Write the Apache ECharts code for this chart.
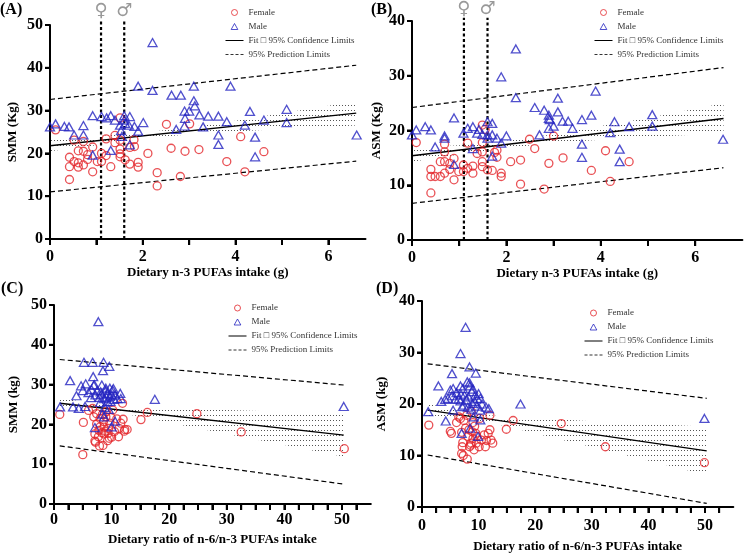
<!DOCTYPE html>
<html><head><meta charset="utf-8">
<script src="https://cdn.jsdelivr.net/npm/echarts@6/dist/echarts.min.js"></script>
<style>html,body{margin:0;padding:0;background:#fff}#c{width:746px;height:557px}</style>
</head><body><div id="c"></div>
<script>
// ---------- DATA ----------
const femaleA = [[0.12,25.5],[0.42,19.1],[0.42,16.9],[0.42,13.9],[0.52,23.1],[0.52,18.1],[0.61,20.6],[0.61,17.8],[0.61,16.8],[0.72,22.8],[0.72,20.5],[0.72,17.3],[0.81,19.7],[0.81,18.6],[0.92,21.5],[0.92,15.7],[1.02,18.1],[1.11,20.0],[1.11,18.1],[1.21,23.4],[1.21,19.5],[1.31,16.9],[1.40,24.2],[1.40,22.5],[1.51,28.3],[1.51,23.1],[1.51,21.0],[1.51,19.9],[1.51,19.2],[1.62,18.5],[1.72,21.4],[1.72,17.5],[1.82,21.6],[1.81,23.2],[1.90,17.9],[1.90,16.8],[2.11,20.0],[2.31,15.5],[2.31,12.4],[2.51,26.8],[2.61,21.2],[2.81,14.6],[2.91,20.5],[3.01,26.9],[3.21,20.9],[3.81,18.1],[4.11,23.9],[4.20,15.7],[4.61,20.4]];
const maleA = [[0.0,26.2],[0.12,26.9],[0.31,26.3],[0.41,26.2],[0.52,24.3],[0.72,26.5],[0.72,24.3],[0.92,28.8],[0.92,19.6],[1.11,28.6],[1.22,28.3],[1.31,28.8],[1.31,20.7],[1.40,27.8],[1.51,26.6],[1.53,25.3],[1.60,28.8],[1.60,27.8],[1.72,28.6],[1.70,26.6],[1.82,26.3],[1.72,22.0],[1.90,25.2],[2.01,27.2],[1.90,35.7],[2.21,45.9],[2.21,34.7],[2.62,33.6],[2.82,33.6],[3.10,35.7],[3.89,35.7],[3.10,32.3],[3.12,31.1],[2.90,29.9],[3.0,29.9],[2.91,28.2],[2.90,26.4],[2.72,25.6],[3.22,29.0],[3.30,26.2],[3.41,28.7],[3.63,28.7],[3.81,27.4],[3.63,24.3],[3.63,22.1],[4.31,29.8],[4.20,26.6],[4.42,23.8],[4.42,19.2],[4.61,27.8],[5.10,30.3],[5.10,27.2],[6.61,24.3],[1.55,24.0],[1.62,27.0]];
const femaleB = [[0.09,17.8],[0.40,12.9],[0.40,11.6],[0.40,8.6],[0.49,11.6],[0.60,14.3],[0.60,11.6],[0.69,17.5],[0.69,16.1],[0.69,14.3],[0.69,12.2],[0.80,14.0],[0.80,12.9],[0.89,14.9],[0.89,11.0],[0.99,12.5],[1.09,13.7],[1.09,12.5],[1.18,17.7],[1.18,13.1],[1.29,13.5],[1.29,12.2],[1.38,15.8],[1.49,21.0],[1.49,17.8],[1.49,16.1],[1.49,14.3],[1.49,13.4],[1.60,12.8],[1.70,12.7],[1.80,16.4],[1.80,15.1],[1.89,12.2],[1.89,11.6],[2.09,14.3],[2.30,14.6],[2.30,10.2],[2.49,18.4],[2.60,16.7],[2.80,9.3],[2.90,14.0],[3.0,19.0],[3.20,15.0],[3.80,12.7],[4.10,16.3],[4.20,10.7],[4.60,14.3],[1.55,20.2],[1.75,16.0]];
const maleB = [[0.0,19.2],[0.09,20.1],[0.28,20.7],[0.40,20.1],[0.49,17.0],[0.69,19.0],[0.69,18.6],[0.89,22.3],[0.89,13.8],[1.09,19.5],[1.18,20.4],[1.29,20.7],[1.29,16.7],[1.38,19.5],[1.42,20.2],[1.49,19.3],[1.60,21.6],[1.60,19.2],[1.60,18.6],[1.70,21.3],[1.70,19.2],[1.70,15.3],[1.80,18.6],[1.89,17.7],[1.89,29.8],[2.00,19.0],[2.20,34.9],[2.20,26.0],[2.60,24.2],[2.70,19.2],[2.80,23.7],[2.90,22.8],[2.90,22.2],[2.92,22.0],[2.90,20.4],[3.0,20.8],[3.09,25.9],[3.09,23.4],[3.19,21.7],[3.31,21.7],[3.40,20.4],[3.60,22.0],[3.60,17.5],[3.60,15.1],[3.80,22.8],[3.89,27.2],[4.20,19.6],[4.29,21.6],[4.40,16.6],[4.40,14.3],[4.60,20.7],[5.09,22.9],[5.09,20.8],[6.59,18.4]];
const femaleC = [[1.0,22.5],[5.1,20.5],[5.0,12.4],[6.0,23.5],[6.9,21.9],[7.1,17.6],[7.1,15.8],[7.4,20.1],[7.7,16.9],[7.9,14.6],[8.0,19.4],[8.0,21.5],[8.3,17.9],[8.6,20.7],[8.7,19.3],[8.7,17.6],[9.0,21.9],[9.1,23.2],[9.3,15.9],[9.4,17.8],[9.7,20.3],[10.0,16.8],[10.2,23.6],[11.2,16.9],[11.3,19.0],[11.6,20.3],[11.9,25.3],[12.0,21.3],[12.3,18.7],[12.7,18.7],[15.1,21.2],[16.2,23.0],[24.8,22.7],[32.5,18.1],[50.4,13.9],[7.2,15.5],[7.8,18.5],[8.5,14.7],[9.5,19.0],[10.5,18.2],[6.7,24.0],[8.4,22.5],[9.6,16.5],[7.4,22.7],[10.9,21.4],[8.9,18.3],[9.9,21.8],[12.2,18.3]];
const maleC = [[1.05,24.4],[2.8,31.0],[3.3,24.4],[3.9,27.2],[4.3,24.0],[4.7,29.7],[5.0,28.5],[5.2,35.6],[5.5,30.2],[5.4,24.5],[6.0,28.0],[6.7,35.6],[6.8,32.0],[6.4,26.7],[6.9,29.8],[7.2,27.4],[7.1,19.2],[7.7,45.8],[7.5,28.5],[7.9,26.8],[8.1,28.2],[8.3,29.9],[8.5,33.5],[8.6,35.6],[8.4,22.6],[8.7,21.9],[8.7,26.5],[9.0,29.1],[9.0,28.6],[9.3,27.8],[9.3,25.7],[9.6,34.6],[9.7,29.1],[9.7,27.1],[10.0,19.4],[10.0,27.4],[10.2,28.6],[10.4,26.3],[10.6,27.4],[10.6,20.8],[11.0,26.5],[11.5,27.8],[11.6,26.5],[17.5,26.3],[50.3,24.5],[6.5,28.8],[7.0,30.0],[8.0,25.5],[8.8,24.3],[9.5,23.8],[9.1,26.8],[8.2,27.6],[9.8,25.8],[10.3,29.0]];
const femaleD = [[1.2,15.9],[5.0,14.7],[5.2,14.3],[6.1,16.4],[6.8,17.2],[7.0,14.5],[7.0,10.4],[7.1,11.7],[7.2,12.5],[7.7,15.3],[8.0,9.3],[8.1,13.7],[8.4,11.7],[8.7,12.4],[8.9,14.6],[9.0,13.3],[9.2,11.1],[9.3,15.7],[9.6,12.4],[9.7,13.7],[10.1,11.7],[10.2,17.2],[11.2,11.7],[11.4,12.9],[11.7,14.3],[12.0,15.0],[12.0,17.8],[12.2,13.0],[12.5,12.4],[14.9,15.1],[16.1,16.8],[24.6,16.2],[32.4,11.7],[49.9,8.6],[7.4,16.8],[8.3,15.0],[9.5,14.3],[6.5,17.5],[7.3,10.0],[8.6,12.0],[10.5,13.0],[9.0,16.4],[7.9,17.8],[8.7,18.6],[11.0,14.0]];
const maleD = [[1.1,18.5],[2.9,23.5],[3.4,20.5],[4.2,16.7],[4.1,20.9],[4.6,21.1],[5.0,22.7],[5.3,25.9],[5.5,23.0],[5.5,18.8],[5.9,20.9],[6.8,29.8],[6.8,23.5],[6.9,21.9],[6.8,20.6],[7.0,14.3],[7.1,19.5],[7.7,34.9],[7.5,21.7],[7.8,20.8],[8.1,19.4],[8.4,27.2],[8.4,24.1],[8.5,23.5],[8.2,21.4],[8.8,22.4],[8.7,19.0],[9.1,17.5],[8.5,15.3],[9.3,20.5],[9.5,26.0],[9.4,21.7],[9.7,19.6],[9.9,13.7],[10.3,21.1],[10.6,20.0],[10.3,18.8],[10.3,16.9],[11.3,19.4],[11.8,19.1],[17.4,20.0],[49.9,17.2],[5.3,21.6],[6.1,22.2],[7.2,23.0],[9.0,22.9],[9.8,21.0],[8.0,24.3],[8.9,20.1],[10.0,22.0],[7.4,19.8],[6.5,21.0]];

// fit lines and limits
const fitAX = [0, 6.6],   fitAY = [21.8, 29.4], predAUp = [32.6, 40.6], predALo = [11.0, 18.2];
const fitBX = [0, 6.6],   fitBY = [15.4, 22.2], predBUp = [24.2, 31.5], predBLo = [6.7, 13.2];
const fitCX = [1, 50.3],  fitCY = [25.3, 17.3], predCUp = [36.3, 29.9], predCLo = [14.6, 5.0];
const fitDX = [1, 50.3],  fitDY = [18.8, 10.9], predDUp = [27.8, 21.1], predDLo = [10.1, 0.7];

// 95% confidence bands
const ciAX = [0, 1, 1.9, 3, 4, 5, 6.6];
const ciALo = [20.5, 21.9, 23.3, 24.5, 25.1, 25.7, 26.5];
const ciAHi = [23.1, 24.0, 24.7, 26.1, 27.6, 29.4, 32.2];
const ciBX = [0, 1, 1.9, 3, 4, 5, 6.6];
const ciBLo = [14.3, 15.6, 16.7, 17.7, 18.3, 18.8, 19.5];
const ciBHi = [16.8, 17.3, 18.0, 19.3, 20.8, 22.3, 25.0];
const ciCX = [1, 5, 9.5, 15, 20, 30, 40, 50.3];
const ciCLo = [23.8, 23.75, 23.15, 22.0, 20.4, 17.6, 14.8, 11.9];
const ciCHi = [26.8, 25.55, 24.65, 24.0, 24.0, 23.6, 23.2, 22.7];
const ciDX = [1, 5, 9.5, 15, 20, 30, 40, 50.3];
const ciDLo = [17.5, 17.36, 16.79, 15.66, 14.26, 11.66, 8.96, 6.2];
const ciDHi = [20.1, 18.96, 18.09, 17.46, 17.26, 16.66, 16.16, 15.6];

// sex-specific reference lines (panels A, B)
const sexLineX = [1.1, 1.6];
const sexSymbols = ['\u2640', '\u2642'];

// axes
const xTicksAB = [0, 1, 2, 3, 4, 5, 6];
const xLabelsAB = [0, 2, 4, 6];
const xTicksCD = [0, 2.5, 5, 7.5, 10, 12.5, 15, 17.5, 20, 22.5, 25, 27.5, 30, 32.5, 35, 37.5, 40, 42.5, 45, 47.5, 50, 52.5];
const xLabelsCD = [0, 10, 20, 30, 40, 50];
const yTicks50 = [0, 10, 20, 30, 40, 50];
const yTicks40 = [0, 10, 20, 30, 40];
const panelLabels = ['(A)', '(B)', '(C)', '(D)'];
const yNames = ['SMM (Kg)', 'ASM (Kg)', 'SMM (kg)', 'ASM (kg)'];
const xNames = ['Dietary n-3 PUFAs intake (g)', 'Dietary n-3 PUFAs intake (g)', 'Dietary ratio of n-6/n-3 PUFAs intake', 'Dietary ratio of n-6/n-3 PUFAs intake'];
const legendNames = ['Female', 'Male', 'Fit \u25A1 95% Confidence Limits', '95% Prediction Limits'];

// ---------- CHART ----------
const SERIF = '"Liberation Serif","Times New Roman",serif';
const RED = '#e3262b', BLUE = '#2424c0';

function pairs(xs, ys) { return xs.map((x, i) => [x, ys[i]]); }
function pattern() {
  const c = document.createElement('canvas'); c.width = 3; c.height = 5;
  const g = c.getContext('2d'); g.fillStyle = '#555'; g.fillRect(0, 0, 1, 1);
  return { image: c, repeat: 'repeat' };
}
const PAT = pattern();

const panels = [
  { grid: {left: 50, top: 25, width: 315.5, height: 214}, xMax: 6.8, yMax: 50, xInt: 2, xTicks: xTicksAB, xLabels: xLabelsAB, yTicks: yTicks50,
    female: femaleA, male: maleA, fitX: fitAX, fitY: fitAY, pUp: predAUp, pLo: predALo, ciX: ciAX, ciLo: ciALo, ciHi: ciAHi,
    xMargin: 10, xGap: 26, yGap: 31, sex: true, sexTop: 51.2, legend: {left: 225, top: 8}, title: {left: 0, top: 2} },
  { grid: {left: 412, top: 21, width: 330.4, height: 219}, xMax: 7, yMax: 40, xInt: 2, xTicks: xTicksAB, xLabels: xLabelsAB, yTicks: yTicks40,
    female: femaleB, male: maleB, fitX: fitBX, fitY: fitBY, pUp: predBUp, pLo: predBLo, ciX: ciBX, ciLo: ciBLo, ciHi: ciBHi,
    xMargin: 10, xGap: 27, yGap: 29, sex: true, sexTop: 40.6, legend: {left: 594, top: 8}, title: {left: 371, top: 2} },
  { grid: {left: 54, top: 305, width: 316.8, height: 199}, xMax: 55, yMax: 50, xInt: 10, xTicks: xTicksCD, xLabels: xLabelsCD, yTicks: yTicks50,
    female: femaleC, male: maleC, fitX: fitCX, fitY: fitCY, pUp: predCUp, pLo: predCLo, ciX: ciCX, ciLo: ciCLo, ciHi: ciCHi,
    xMargin: 8, xGap: 29, yGap: 34, sex: false, legend: {left: 228, top: 303.5}, title: {left: 1, top: 281} },
  { grid: {left: 422, top: 301, width: 311.3, height: 206}, xMax: 55, yMax: 40, xInt: 10, xTicks: xTicksCD, xLabels: xLabelsCD, yTicks: yTicks40,
    female: femaleD, male: maleD, fitX: fitDX, fitY: fitDY, pUp: predDUp, pLo: predDLo, ciX: ciDX, ciLo: ciDLo, ciHi: ciDHi,
    xMargin: 11, xGap: 33, yGap: 34, sex: false, legend: {left: 584, top: 308.5}, title: {left: 376, top: 281} }
];

const option = { animation: false, backgroundColor: '#fff', grid: [], xAxis: [], yAxis: [], series: [], legend: [], title: [] };
const axisFont = { fontFamily: SERIF, fontWeight: 'bold', color: '#000' };
const NOFILL = 'rgba(255,255,255,0)';

panels.forEach((p, i) => {
  option.grid.push(Object.assign({ containLabel: false }, p.grid));
  option.title.push({ text: panelLabels[i], left: p.title.left, top: p.title.top, padding: 0,
    textStyle: { fontFamily: SERIF, fontWeight: 'bold', fontSize: 16, color: '#000' } });
  option.xAxis.push({
    gridIndex: i, type: 'value', min: 0, max: p.xMax, interval: p.xInt,
    name: xNames[i], nameLocation: 'middle', nameGap: p.xGap,
    nameTextStyle: Object.assign({ fontSize: 13 }, axisFont),
    axisLine: { show: true, onZero: false, lineStyle: { color: '#000', width: 2 } },
    axisTick: { show: true, length: 6, customValues: p.xTicks, lineStyle: { color: '#000', width: 2 } },
    axisLabel: Object.assign({ fontSize: 16, margin: p.xMargin, customValues: p.xLabels }, axisFont),
    splitLine: { show: false }
  });
  option.yAxis.push({
    gridIndex: i, type: 'value', min: 0, max: p.yMax, interval: 10,
    name: yNames[i], nameLocation: 'middle', nameGap: p.yGap,
    nameTextStyle: Object.assign({ fontSize: 13 }, axisFont),
    axisLine: { show: true, onZero: false, lineStyle: { color: '#000', width: 2 } },
    axisTick: { show: true, length: 5, lineStyle: { color: '#000', width: 2 } },
    axisLabel: Object.assign({ fontSize: 16, margin: 7 }, axisFont),
    splitLine: { show: false }
  });
  const ax = { xAxisIndex: i, yAxisIndex: i };
  // confidence band: polygon between lower and upper limits, dotted fill
  option.series.push(Object.assign({
    type: 'custom', name: 'ci' + i, silent: true, z: 1,
    data: p.ciX.map((x, k) => [x, p.ciLo[k], p.ciHi[k]]),
    encode: { x: 0, y: [1, 2] },
    renderItem: (params, api) => {
      if (params.dataIndex !== 0) return null;
      const pts = [];
      for (let k = 0; k < p.ciX.length; k++) pts.push(api.coord([p.ciX[k], p.ciHi[k]]));
      for (let k = p.ciX.length - 1; k >= 0; k--) pts.push(api.coord([p.ciX[k], p.ciLo[k]]));
      return { type: 'polygon', shape: { points: pts }, style: { fill: PAT, stroke: null } };
    }
  }, ax));
  // tick marks (placed through the axes' own scales) so they always show
  option.series.push(Object.assign({
    type: 'custom', name: 'xticks' + i, silent: true, clip: false, z: 6,
    data: p.xTicks.map(v => [v, 0]), encode: { x: 0, y: 1 },
    renderItem: (params, api) => {
      const pt = api.coord([api.value(0), 0]);
      return { type: 'line', shape: { x1: pt[0], y1: pt[1], x2: pt[0], y2: pt[1] + 6 }, style: { stroke: '#000', lineWidth: 2 } };
    }
  }, ax));
  option.series.push(Object.assign({
    type: 'custom', name: 'yticks' + i, silent: true, clip: false, z: 6,
    data: p.yTicks.map(v => [0, v]), encode: { x: 0, y: 1 },
    renderItem: (params, api) => {
      const pt = api.coord([0, api.value(1)]);
      return { type: 'line', shape: { x1: pt[0] - 5, y1: pt[1], x2: pt[0], y2: pt[1] }, style: { stroke: '#000', lineWidth: 2 } };
    }
  }, ax));
  // prediction limits
  [p.pUp, p.pLo].forEach(arr => option.series.push(Object.assign({ type: 'line', name: legendNames[3],
    data: pairs(p.fitX, arr), symbol: 'none', silent: true,
    lineStyle: { color: '#000', width: 1.2, type: [5, 3] }, z: 2 }, ax)));
  // fit
  option.series.push(Object.assign({ type: 'line', name: legendNames[2], data: pairs(p.fitX, p.fitY),
    symbol: 'none', silent: true, lineStyle: { color: '#000', width: 1.4 }, z: 3 }, ax));
  // sex reference lines + ♀/♂ labels at their top ends
  if (p.sex) {
    sexLineX.forEach(x => option.series.push(Object.assign({ type: 'line', name: 'sex', clip: false,
      data: [[x, 0], [x, p.sexTop]], symbol: 'none', silent: true,
      lineStyle: { color: '#000', width: 2.2, type: [3, 2.5] }, z: 4 }, ax)));
    option.series.push(Object.assign({ type: 'scatter', name: 'sexLabel', clip: false, silent: true, z: 4,
      data: sexLineX.map((x, k) => ({ value: [x, p.sexTop], label: { formatter: sexSymbols[k] } })),
      symbolSize: 1, itemStyle: { color: NOFILL },
      label: { show: true, position: 'top', distance: -1, color: '#808080', fontSize: 18, fontFamily: '"DejaVu Sans"' } }, ax));
  }
  // scatter
  option.series.push(Object.assign({ type: 'scatter', name: 'Female', data: p.female, symbol: 'circle', symbolSize: 8,
    itemStyle: { color: NOFILL, borderColor: RED, borderWidth: 1.3 }, z: 5 }, ax));
  option.series.push(Object.assign({ type: 'scatter', name: 'Male', data: p.male, symbol: 'triangle', symbolSize: [9, 8],
    itemStyle: { color: NOFILL, borderColor: BLUE, borderWidth: 1.3 }, z: 5 }, ax));
  // legend
  option.legend.push({
    left: p.legend.left, top: p.legend.top, orient: 'vertical', itemWidth: 18, itemHeight: 6, itemGap: 5,
    selectedMode: false, padding: 0, symbolKeepAspect: true,
    textStyle: { fontFamily: SERIF, fontSize: 9, color: '#333', lineHeight: 9 },
    data: [
      { name: legendNames[0], icon: 'circle', itemStyle: { color: NOFILL, borderColor: RED, borderWidth: 1 } },
      { name: legendNames[1], icon: 'path://M5,0L10,9L0,9Z', itemStyle: { color: NOFILL, borderColor: BLUE, borderWidth: 1 } },
      { name: legendNames[2], itemStyle: { color: NOFILL, borderWidth: 0, opacity: 0 }, lineStyle: { color: '#000', width: 1, type: 'solid' } },
      { name: legendNames[3], itemStyle: { color: NOFILL, borderWidth: 0, opacity: 0 }, lineStyle: { color: '#333', width: 1, type: [3, 2] } }
    ]
  });
});

const chart = echarts.init(document.getElementById('c'), null, { renderer: 'canvas' });
chart.setOption(option);
</script></body></html>
